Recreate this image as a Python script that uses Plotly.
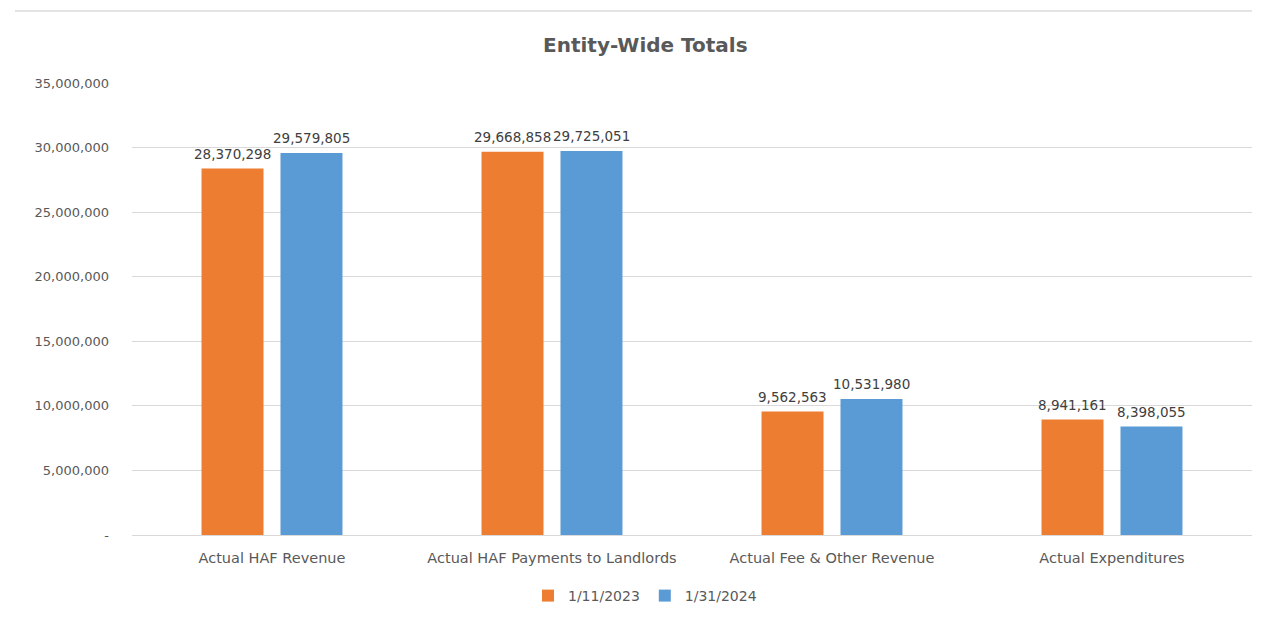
import plotly.graph_objects as go

# Chart data
categories = [
    "Actual HAF Revenue",
    "Actual HAF Payments to Landlords",
    "Actual Fee & Other Revenue",
    "Actual Expenditures",
]
series_names = ["1/11/2023", "1/31/2024"]
values_2023 = [28370298, 29668858, 9562563, 8941161]
values_2024 = [29579805, 29725051, 10531980, 8398055]
y_tick_values = [0, 5000000, 10000000, 15000000, 20000000, 25000000, 30000000, 35000000]
y_tick_labels = ["-", "5,000,000", "10,000,000", "15,000,000", "20,000,000",
                 "25,000,000", "30,000,000", "35,000,000"]

ORANGE = "#ED7D31"
BLUE = "#5B9BD5"
FONT = "DejaVu Sans"

W, H = 1264, 617
M_L, M_R, M_T, M_B = 132, 12, 83, 82
plot_w = W - M_L - M_R
plot_h = H - M_T - M_B
cat_w = plot_w / len(categories)
BARGAP = 0.436
GROUPGAP = 0.215
slot = cat_w * (1 - BARGAP) / 2  # width of each bar's slot in px

fig = go.Figure()
for name, vals, color in [(series_names[0], values_2023, ORANGE),
                          (series_names[1], values_2024, BLUE)]:
    fig.add_trace(go.Bar(
        name=name, x=categories, y=vals,
        marker=dict(color=color, line=dict(width=0)),
        hoverinfo="x+y",
    ))

# value labels above each bar
annotations = []
for i, vals in enumerate([values_2023, values_2024]):
    shift = (-0.5 + i) * slot
    for cat, v in zip(categories, vals):
        annotations.append(dict(
            x=cat, y=v, xref="x", yref="y", text=f"{v:,}",
            showarrow=False, xshift=shift, yshift=15,
            xanchor="center", yanchor="middle",
            font=dict(family=FONT, size=13.5, color="#404040"),
        ))

# chart title, centred over the chart area
title_x = (645 - M_L) / plot_w
annotations.append(dict(
    x=title_x, y=(plot_h + M_T - 45) / plot_h, xref="paper", yref="paper",
    xanchor="center", yanchor="middle",
    text="<b>Entity-Wide Totals</b>", showarrow=False,
    font=dict(family=FONT, size=20, color="#595959"),
))

fig.update_layout(
    width=W, height=H,
    margin=dict(l=M_L, r=M_R, t=M_T, b=M_B, autoexpand=False),
    paper_bgcolor="white", plot_bgcolor="white",
    barmode="group", bargap=BARGAP, bargroupgap=GROUPGAP,
    font=dict(family=FONT, size=13, color="#595959"),
    showlegend=True,
    legend=dict(
        orientation="h", x=title_x, xanchor="center",
        y=-(596 - (H - M_B)) / plot_h, yanchor="middle",
        font=dict(family=FONT, size=14, color="#595959"),
        itemwidth=30, traceorder="normal",
    ),
    annotations=annotations,
    shapes=[
        dict(type="line", xref="paper", yref="paper",
             x0=(15 - M_L) / plot_w, x1=1.0,
             y0=(plot_h + M_T - 11) / plot_h, y1=(plot_h + M_T - 11) / plot_h,
             line=dict(color="#e4e4e4", width=2)),
    ],
)

fig.update_xaxes(
    showgrid=False, showline=True, linecolor="#d9d9d9", linewidth=1,
    ticks="", tickfont=dict(family=FONT, size=14.5, color="#595959"),
    ticklabelstandoff=10,
)
fig.update_yaxes(
    range=[0, 35000000], tickvals=y_tick_values, ticktext=y_tick_labels,
    showgrid=True, gridcolor="#d9d9d9", gridwidth=1,
    zeroline=False, showline=False, ticks="",
    tickfont=dict(family=FONT, size=13, color="#595959"),
    ticklabelstandoff=22,
)

fig.write_html("out.html")
